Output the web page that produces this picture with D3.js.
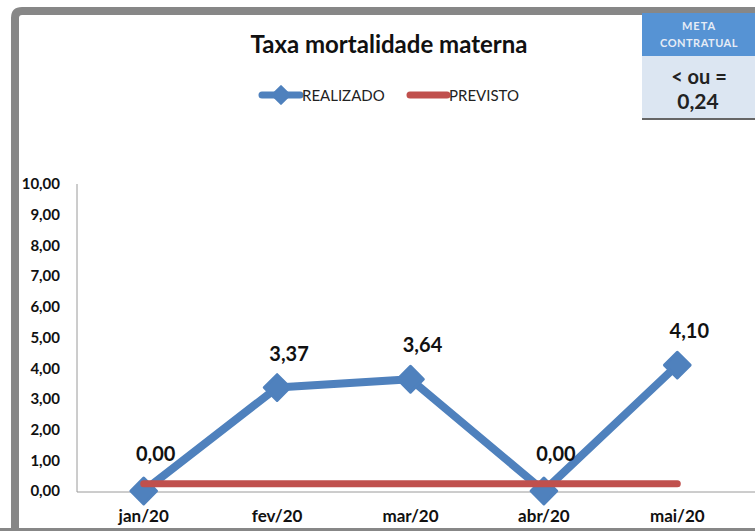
<!DOCTYPE html>
<html>
<head>
<meta charset="utf-8">
<script src="https://cdn.jsdelivr.net/npm/d3@7"></script>
<style>
  html, body { margin: 0; padding: 0; background: #fff; }
  svg { display: block; font-family: "Lato", "Open Sans", sans-serif; }
</style>
</head>
<body>
<svg id="chart" width="755" height="531"></svg>
<script>
// --- Data ---
const months = ["jan/20", "fev/20", "mar/20", "abr/20", "mai/20"];
const realizado = [0.00, 3.37, 3.64, 0.00, 4.10];
const previsto = [0.24, 0.24, 0.24, 0.24, 0.24];
const yTicks = [0, 1, 2, 3, 4, 5, 6, 7, 8, 9, 10];

const BLUE = "#4F81BD";
const RED = "#C0504D";
const fmt = v => d3.format(".2f")(v).replace(".", ",");

const svg = d3.select("#chart");

// frame (gray border around chart area)
svg.append("path")
  .attr("d", "M15,531 L15,18 Q15,11 22,11 L755,11")
  .attr("fill", "none")
  .attr("stroke", "#878787")
  .attr("stroke-width", 8);
svg.append("rect")
  .attr("x", 0).attr("y", 528).attr("width", 755).attr("height", 3)
  .attr("fill", "#878787");

// plot area
const pLeft = 77, pRight = 744, pTop = 184, pBottom = 491;

const x = d3.scaleBand().domain(months).range([pLeft, pRight]);
const y = d3.scaleLinear().domain([0, 10]).range([pBottom, pTop]);
const cx = m => x(m) + x.bandwidth() / 2;

// axes
const yAxis = svg.append("g")
  .attr("transform", `translate(${pLeft},0)`)
  .call(d3.axisLeft(y).tickValues(yTicks).tickFormat(fmt).tickSize(0).tickPadding(17));
yAxis.select(".domain").attr("stroke", "#9a9a9a").attr("d", `M0,${pTop}V${pBottom + 1}`);
yAxis.selectAll("text")
  .attr("font-size", 15).attr("font-weight", "bold").attr("fill", "#111")
  .attr("font-family", "Lato, sans-serif");

const xAxis = svg.append("g")
  .attr("transform", `translate(0,${pBottom + 1})`)
  .call(d3.axisBottom(x).tickSize(0).tickPadding(18));
xAxis.select(".domain").attr("stroke", "#9a9a9a").attr("d", `M${pLeft},0H755`);
xAxis.selectAll("text")
  .attr("font-size", 17).attr("font-weight", "bold").attr("fill", "#111")
  .attr("font-family", "Lato, sans-serif");

// series
const line = d3.line().x((d, i) => cx(months[i])).y(d => y(d));

svg.append("path")
  .datum(realizado)
  .attr("d", line)
  .attr("fill", "none")
  .attr("stroke", BLUE)
  .attr("stroke-width", 8)
  .attr("stroke-linejoin", "round");

const diamond = d3.symbol().type(d3.symbolDiamond2).size(420);
svg.selectAll("path.marker")
  .data(realizado)
  .join("path")
  .attr("class", "marker")
  .attr("d", diamond)
  .attr("transform", (d, i) => `translate(${cx(months[i])},${y(d)})`)
  .attr("fill", BLUE)
  .attr("stroke", BLUE)
  .attr("stroke-width", 3)
  .attr("stroke-linejoin", "round");

svg.append("path")
  .datum(previsto)
  .attr("d", line)
  .attr("fill", "none")
  .attr("stroke", RED)
  .attr("stroke-width", 7)
  .attr("stroke-linecap", "round");

// data labels
svg.selectAll("text.lbl")
  .data(realizado)
  .join("text")
  .attr("class", "lbl")
  .attr("x", (d, i) => cx(months[i]) + 12)
  .attr("y", d => y(d) - (d === 0 ? 30 : 27))
  .attr("text-anchor", "middle")
  .attr("font-size", 20)
  .attr("font-weight", "bold")
  .attr("fill", "#111")
  .text(fmt);

// title
svg.append("text")
  .attr("x", 389).attr("y", 53)
  .attr("text-anchor", "middle")
  .attr("font-size", 24).attr("font-weight", "bold").attr("fill", "#111")
  .text("Taxa mortalidade materna");

// legend
const lg = svg.append("g").attr("transform", "translate(0,95)");
lg.append("line").attr("x1", 262).attr("x2", 300).attr("y1", 0).attr("y2", 0)
  .attr("stroke", BLUE).attr("stroke-width", 7).attr("stroke-linecap", "round");
lg.append("path").attr("d", d3.symbol().type(d3.symbolDiamond2).size(200))
  .attr("transform", "translate(281,0)").attr("fill", BLUE)
  .attr("stroke", BLUE).attr("stroke-width", 2).attr("stroke-linejoin", "round");
lg.append("text").attr("x", 302).attr("y", 6).attr("font-size", 15).attr("fill", "#222").text("REALIZADO");
lg.append("line").attr("x1", 410).attr("x2", 447).attr("y1", 0).attr("y2", 0)
  .attr("stroke", RED).attr("stroke-width", 7).attr("stroke-linecap", "round");
lg.append("text").attr("x", 449).attr("y", 6).attr("font-size", 15).attr("fill", "#222").text("PREVISTO");

// meta box
const mb = svg.append("g");
mb.append("rect").attr("x", 642).attr("y", 13).attr("width", 113).attr("height", 43).attr("fill", "#5693D4");
mb.append("rect").attr("x", 642).attr("y", 56).attr("width", 113).attr("height", 62).attr("fill", "#DCE6F2");
mb.append("rect").attr("x", 642).attr("y", 118).attr("width", 113).attr("height", 2).attr("fill", "#666");
mb.append("text").attr("x", 699).attr("y", 30).attr("text-anchor", "middle")
  .attr("font-size", 11).attr("font-weight", "bold").attr("letter-spacing", 1)
  .attr("fill", "#e6ecf6").text("META");
mb.append("text").attr("x", 699).attr("y", 47).attr("text-anchor", "middle")
  .attr("font-size", 11).attr("font-weight", "bold").attr("letter-spacing", 0.5)
  .attr("fill", "#e6ecf6").text("CONTRATUAL");
mb.append("text").attr("x", 699).attr("y", 84).attr("text-anchor", "middle")
  .attr("font-size", 20).attr("font-weight", "bold").attr("fill", "#222").text("< ou =");
mb.append("text").attr("x", 698).attr("y", 109).attr("text-anchor", "middle")
  .attr("font-size", 21).attr("font-weight", "bold").attr("fill", "#222").text("0,24");
</script>
</body>
</html>
